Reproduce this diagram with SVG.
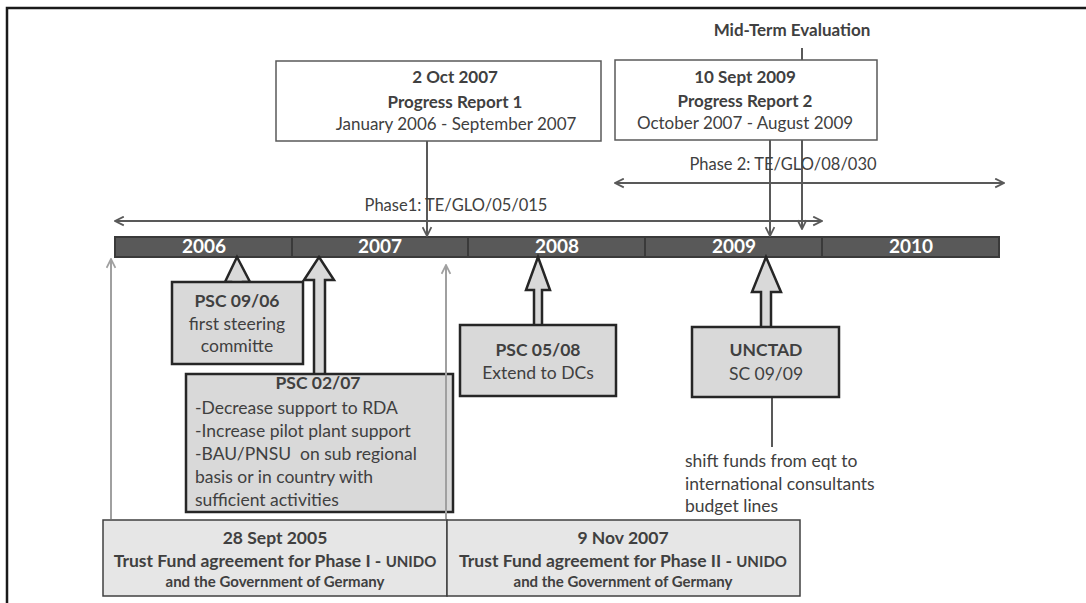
<svg xmlns="http://www.w3.org/2000/svg" width="1086" height="603" viewBox="0 0 1086 603">
<style>
text{font-family:Lato,"Open Sans","Liberation Sans",sans-serif;fill:#404040}
.b{font-weight:bold}
.c{text-anchor:middle}
.yr{font-weight:bold;fill:#ffffff;font-size:19px;text-anchor:middle}
.seg{fill:#595959;stroke:#3a3a3a;stroke-width:2}
.psc{fill:#d9d9d9;stroke:#262626;stroke-width:2.5}
.blk{fill:#d9d9d9;stroke:#262626;stroke-width:2.5;stroke-linejoin:miter}
.rep{fill:#ffffff;stroke:#595959;stroke-width:1.5}
.tf{fill:#e6e6e6;stroke:#404040;stroke-width:1.5}
.ln{stroke:#595959;stroke-width:2;fill:none}
.lg{stroke:#a0a0a0;stroke-width:2;fill:none}
.tp{font-size:16.5px}
.tr{font-size:17px}
.t17{font-size:17.5px}
.ts{font-size:15px}
</style>
<defs>
<marker id="ah" viewBox="0 0 10 10" refX="9" refY="5" markerWidth="5.5" markerHeight="5.5" orient="auto-start-reverse" markerUnits="strokeWidth">
<path d="M1,1 L9,5 L1,9" fill="none" stroke="#595959" stroke-width="1.6"/>
</marker>
<marker id="ahg" viewBox="0 0 10 10" refX="9" refY="5" markerWidth="5.5" markerHeight="5.5" orient="auto-start-reverse" markerUnits="strokeWidth">
<path d="M1,1 L9,5 L1,9" fill="none" stroke="#a0a0a0" stroke-width="1.6"/>
</marker>
</defs>
<rect width="1086" height="603" fill="#ffffff"/>
<path d="M7,603 L7,8 L1086,8" fill="none" stroke="#1a1a1a" stroke-width="2.5"/>

<g id="timeline">
<rect class="seg" x="115" y="237" width="177" height="20"/>
<rect class="seg" x="292" y="237" width="176" height="20"/>
<rect class="seg" x="468" y="237" width="177" height="20"/>
<rect class="seg" x="645" y="237" width="177" height="20"/>
<rect class="seg" x="822" y="237" width="177" height="20"/>
<text class="yr" x="204" y="253">2006</text>
<text class="yr" x="380" y="253">2007</text>
<text class="yr" x="557" y="253">2008</text>
<text class="yr" x="734" y="253">2009</text>
<text class="yr" x="911" y="253">2010</text>
</g>

<g id="connectors">
<line class="ln" x1="115" y1="221" x2="822" y2="221" marker-start="url(#ah)" marker-end="url(#ah)"/>
<line class="ln" x1="615" y1="183" x2="1004" y2="183" marker-start="url(#ah)" marker-end="url(#ah)"/>
<line class="ln" x1="427" y1="141" x2="427" y2="236" marker-end="url(#ah)"/>
<line class="ln" x1="770" y1="140" x2="770" y2="236" marker-end="url(#ah)"/>
<line class="ln" x1="802" y1="48" x2="802" y2="229" marker-end="url(#ah)"/>
<line class="lg" x1="111" y1="519" x2="111" y2="259" marker-end="url(#ahg)"/>
<line class="ln" x1="772" y1="397" x2="772" y2="447" stroke-width="1.5"/>
</g>

<g id="phase1"><text class="tp c" x="456" y="211">Phase1: TE/GLO/05/015</text></g>
<g id="phase2"><text class="tp c" x="783" y="170">Phase 2: TE/GLO/08/030</text></g>

<g id="report1">
<rect class="rep" x="276" y="61" width="325" height="80"/>
<text class="tr b c" x="455" y="83">2 Oct 2007</text>
<text class="tr b c" x="455" y="108">Progress Report 1</text>
<text class="tr c" x="456" y="130">January 2006 - September 2007</text>
</g>

<g id="report2">
<rect class="rep" x="615" y="60" width="262" height="80"/>
<text class="tr b c" x="745" y="83">10 Sept 2009</text>
<text class="tr b c" x="745" y="107">Progress Report 2</text>
<text class="tr c" x="745" y="129">October 2007 - August 2009</text>
</g>

<g id="midterm"><text class="b c" style="font-size:17px" x="792" y="36">Mid-Term Evaluation</text></g>

<g id="psc0906">
<path class="blk" d="M237,257 L250,282 L243,282 L243,300 L231,300 L231,282 L225,282 Z"/>
<rect class="psc" x="172" y="282" width="131" height="82"/>
<text class="t17 b c" x="237" y="307">PSC 09/06</text>
<text class="t17 c" x="237" y="330">first steering</text>
<text class="t17 c" x="237" y="352">committe</text>
</g>

<g id="psc0207">
<path class="blk" d="M319,257 L334,280 L325,280 L325,376 L314,376 L314,280 L304,280 Z"/>
<rect class="psc" x="186" y="374" width="267" height="138"/>
<text class="t17 b c" x="318" y="389">PSC 02/07</text>
<text class="t17" x="195" y="414">-Decrease support to RDA</text>
<text class="t17" x="195" y="437">-Increase pilot plant support</text>
<text class="t17" x="195" y="460" xml:space="preserve">-BAU/PNSU  on sub regional</text>
<text class="t17" x="195" y="483">basis or in country with</text>
<text class="t17" x="195" y="506">sufficient activities</text>
</g>

<g id="psc0508">
<path class="blk" d="M538,257 L550,290 L542,290 L542,327 L534,327 L534,290 L526,290 Z"/>
<rect class="psc" x="460" y="325" width="156" height="71"/>
<text class="t17 b c" x="538" y="356">PSC 05/08</text>
<text class="t17 c" x="538" y="379">Extend to DCs</text>
</g>

<g id="unctad">
<path class="blk" d="M766,257 L781,292 L771,292 L771,329 L761,329 L761,292 L752,292 Z"/>
<rect class="psc" x="692" y="327" width="147" height="70"/>
<text class="t17 b c" x="766" y="356">UNCTAD</text>
<text class="t17 c" x="766" y="380">SC 09/09</text>
</g>

<g id="shiftnote">
<text class="t17" x="685" y="467">shift funds from eqt to</text>
<text class="t17" x="685" y="490">international consultants</text>
<text class="t17" x="685" y="512">budget lines</text>
</g>

<g id="tf1">
<rect class="tf" x="103" y="520" width="344" height="76"/>
<text class="t17 b c" x="275" y="544">28 Sept 2005</text>
<text class="t17 b c" x="275" y="567">Trust Fund agreement for Phase I - <tspan class="ts">UNIDO</tspan></text>
<text class="ts b c" x="275" y="587">and the Government of Germany</text>
</g>

<g id="tf2">
<rect class="tf" x="447" y="520" width="353" height="76"/>
<text class="t17 b c" x="623" y="544">9 Nov 2007</text>
<text class="t17 b c" x="623" y="567">Trust Fund agreement for Phase II - <tspan class="ts">UNIDO</tspan></text>
<text class="ts b c" x="623" y="587">and the Government of Germany</text>
</g>

<g id="connectors-over">
<line class="lg" x1="446" y1="519" x2="446" y2="265" marker-end="url(#ahg)"/>
</g>
</svg>
